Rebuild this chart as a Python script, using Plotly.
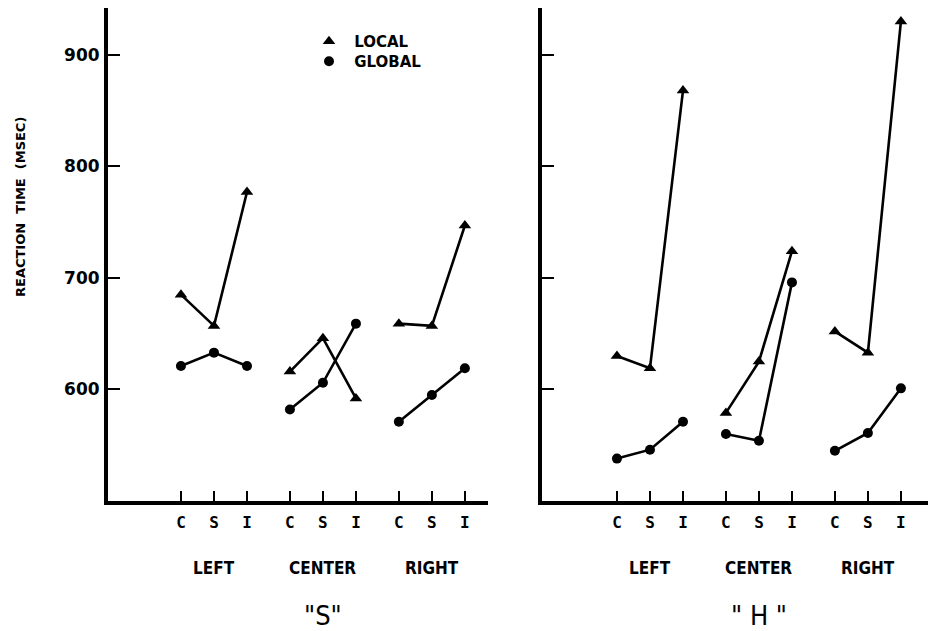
import plotly.graph_objects as go

# Conditions within each target location, and the locations themselves
conditions = ["C", "S", "I"]
locations = ["LEFT", "CENTER", "RIGHT"]
panels = ['"S"', '" H "']

# Mean reaction times (msec), ordered LEFT C,S,I / CENTER C,S,I / RIGHT C,S,I
s_local = [685, 657, 777, 616, 646, 592, 659, 657, 747]
s_global = [621, 633, 621, 582, 606, 659, 571, 595, 619]
h_local = [630, 619, 868, 579, 625, 724, 652, 633, 930]
h_global = [538, 546, 571, 560, 554, 696, 545, 561, 601]

y_ticks = [600, 700, 800, 900]

GROUP_STEP = 3.3  # horizontal distance between location groups (axis units)


def positions():
    return [g * GROUP_STEP + k + 1 for g in range(len(locations)) for k in range(len(conditions))]


def broken(values):
    """Insert gaps so each location group is drawn as its own polyline."""
    xs, ys = [], []
    pos = positions()
    n = len(conditions)
    for g in range(len(locations)):
        xs += pos[g * n:(g + 1) * n] + [None]
        ys += values[g * n:(g + 1) * n] + [None]
    return xs, ys


fig = go.Figure()

LINE_W = 2.6
series = [
    ("x", "y", s_local, "triangle-up", 11),
    ("x", "y", s_global, "circle", 10),
    ("x2", "y2", h_local, "triangle-up", 11),
    ("x2", "y2", h_global, "circle", 10),
]
for xa, ya, vals, sym, sz in series:
    xs, ys = broken(vals)
    fig.add_trace(go.Scatter(
        x=xs, y=ys, xaxis=xa, yaxis=ya, mode="lines+markers",
        line=dict(color="black", width=LINE_W),
        marker=dict(symbol=sym, size=sz, color="black"),
        showlegend=False, connectgaps=False, hoverinfo="skip",
    ))

# Legend entries (markers only), one per legend box
for name, sym, sz, lg in [(" LOCAL", "triangle-up", 11, "legend"),
                          (" GLOBAL", "circle", 10, "legend2")]:
    fig.add_trace(go.Scatter(
        x=[None], y=[None], mode="markers", name=name, legend=lg,
        marker=dict(symbol=sym, size=sz, color="black"),
        showlegend=True,
    ))

W, H = 928, 631
y_dom = [1 - 501 / H, 1 - 8 / H]
tick_pos = positions()
tick_txt = conditions * len(locations)

xaxis_common = dict(
    showgrid=False, zeroline=False, showline=True, linewidth=4, linecolor="black",
    ticks="inside", ticklen=10, tickwidth=2, tickcolor="black",
    tickvals=tick_pos, ticktext=tick_txt,
    tickfont=dict(family="DejaVu Sans Mono", size=16, color="black", weight="bold"),
    ticklabelstandoff=4,
)
yaxis_common = dict(
    showgrid=False, zeroline=False, showline=True, linewidth=4, linecolor="black",
    ticks="inside", ticklen=12, tickwidth=2, tickcolor="black",
    tickvals=y_ticks, range=[500, 942],
    tickfont=dict(family="DejaVu Sans", size=17, color="black", weight="bold"),
)

legend_style = dict(
    xanchor="left", yanchor="top",
    bgcolor="rgba(0,0,0,0)", borderwidth=0,
    font=dict(family="DejaVu Sans", size=15, color="black", weight="bold"),
    itemwidth=30,
)

fig.update_layout(
    width=W, height=H,
    margin=dict(l=0, r=0, t=0, b=0),
    paper_bgcolor="white", plot_bgcolor="white",
    xaxis=dict(domain=[108 / W, 488 / W], range=[-1.21, 10.3], **xaxis_common),
    yaxis=dict(domain=y_dom, anchor="x", showticklabels=True, ticklabelstandoff=1, **yaxis_common),
    xaxis2=dict(domain=[542 / W, 1.0], range=[-1.27, 10.42], anchor="y2", **xaxis_common),
    yaxis2=dict(domain=y_dom, anchor="x2", showticklabels=False, **yaxis_common),
    legend=dict(x=309 / W, y=1 - 25 / H, **legend_style),
    legend2=dict(x=309 / W, y=1 - 45 / H, **legend_style),
    showlegend=True,
)

annotations = []
# Location group labels under each panel
group_centres = [tick_pos[g * 3 + 1] for g in range(len(locations))]
for xa in ["x", "x2"]:
    for loc, cx in zip(locations, group_centres):
        annotations.append(dict(
            x=cx, xref=xa, y=1 - 568 / H, yref="paper", text=loc, showarrow=False,
            xanchor="center", yanchor="middle",
            font=dict(family="DejaVu Sans Condensed", size=17, color="black", weight="bold"),
        ))
# Panel titles
for xa, title in zip(["x", "x2"], panels):
    annotations.append(dict(
        x=group_centres[1], xref=xa, y=1 - 615 / H, yref="paper", text=title, showarrow=False,
        xanchor="center", yanchor="middle",
        font=dict(family="DejaVu Sans Condensed", size=27, color="black"),
    ))
# Y axis title
annotations.append(dict(
    x=20 / W, xref="paper", y=1 - 207 / H, yref="paper",
    text="REACTION  TIME  (MSEC)", textangle=-90, showarrow=False,
    xanchor="center", yanchor="middle",
    font=dict(family="DejaVu Sans", size=13, color="black", weight="bold"),
))
fig.update_layout(annotations=annotations)

fig.write_html("out.html")
